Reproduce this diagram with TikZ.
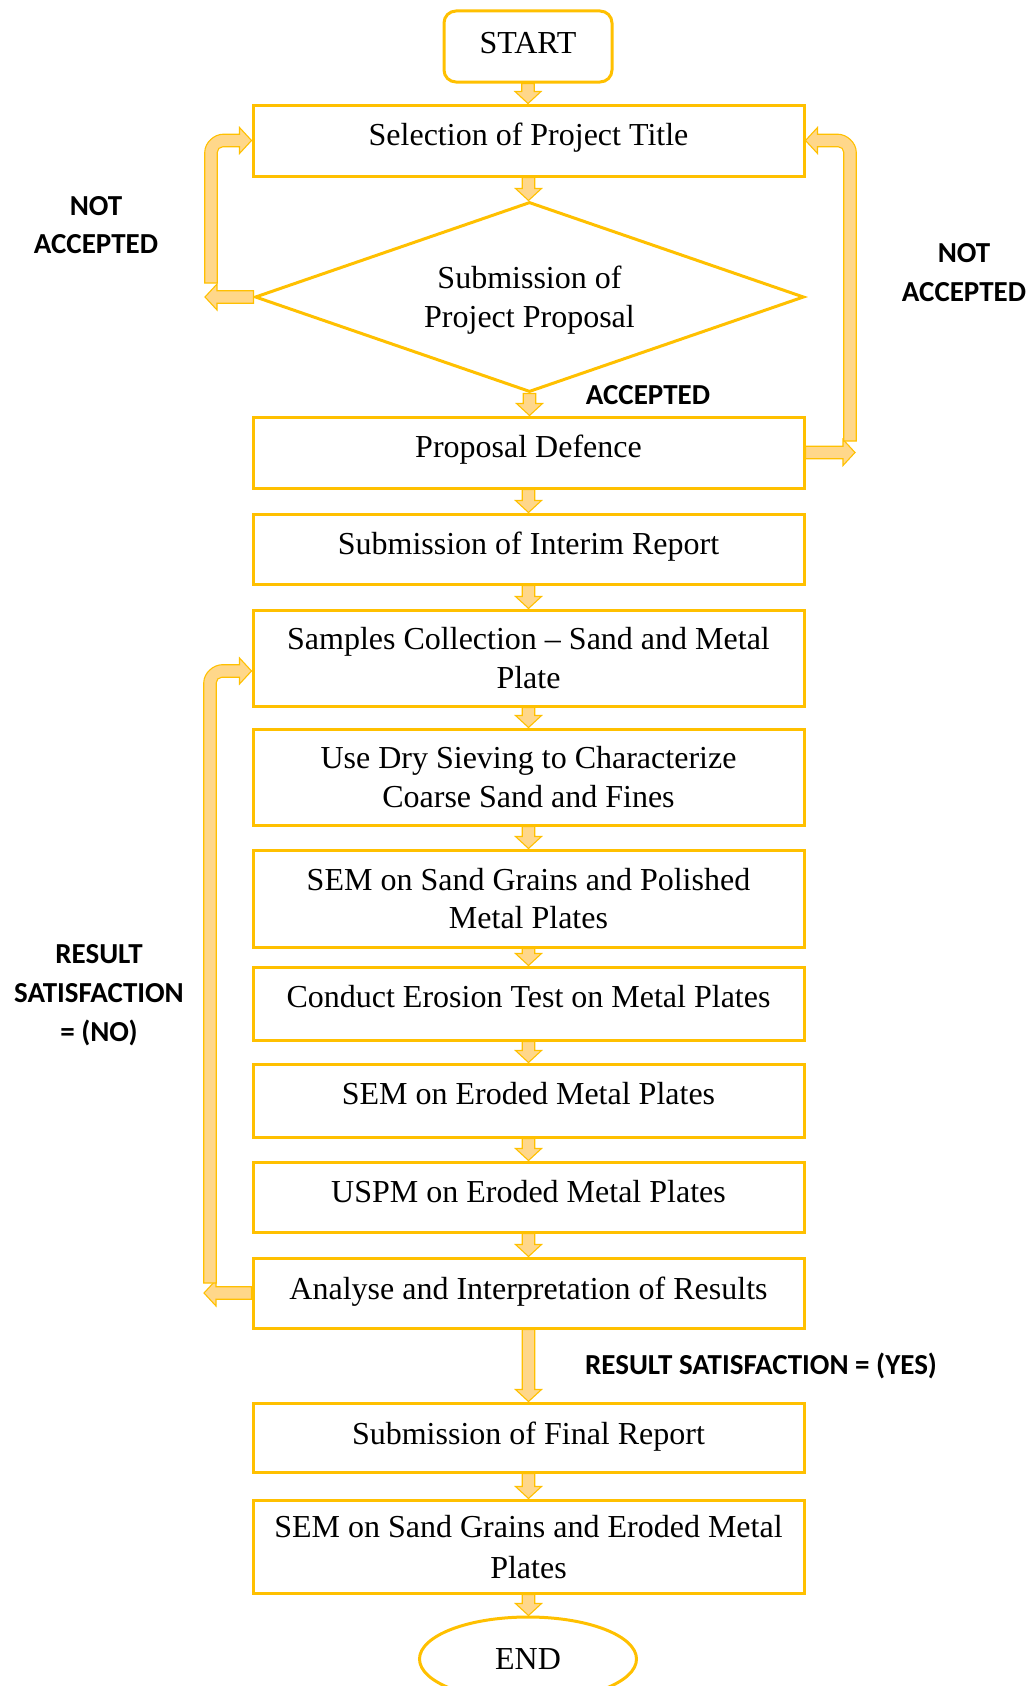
\documentclass[tikz,border=0pt]{standalone}
\usepackage{fontspec}
\setmainfont{Liberation Serif}
\newfontfamily\labfont{Carlito}
\usetikzlibrary{shapes.geometric,calc}
\definecolor{gold}{HTML}{FFC000}
\definecolor{afill}{HTML}{FFD78A}

\newcommand\vblock[2]{\path[blockarrow] let \p1=(#1), \p2=(#2) in
 ({\x1-6.25pt},\y1) -- ({\x1+6.25pt},\y1) -- ({\x1+6.25pt},{\y2+12pt}) -- ({\x1+13pt},{\y2+12pt})
 -- (\x1,\y2) -- ({\x1-13pt},{\y2+12pt}) -- ({\x1-6.25pt},{\y2+12pt}) -- cycle;}

\newcommand\hblock[3]{\path[blockarrow] let \p1=(#1), \p2=(#2) in
 (\x1,{\y1+6.25pt}) -- ({\x2-(#3)*12pt},{\y1+6.25pt}) -- ({\x2-(#3)*12pt},{\y1+13pt}) -- (\x2,\y1)
 -- ({\x2-(#3)*12pt},{\y1-13pt}) -- ({\x2-(#3)*12pt},{\y1-6.25pt}) -- (\x1,{\y1-6.25pt}) -- cycle;}

\newcommand\bentblock[3]{\path[blockarrow] let \p1=(#1), \p2=(#2) in
 ({\x1-(#3)*6.25pt},\y1) -- ({\x1-(#3)*6.25pt},{\y2+6.25pt-18pt})
 .. controls ({\x1-(#3)*6.25pt},{\y2+6.25pt-8pt}) and ({\x1-(#3)*6.25pt+(#3)*10pt},{\y2+6.25pt}) .. ({\x1-(#3)*6.25pt+(#3)*18pt},{\y2+6.25pt})
 -- ({\x2-(#3)*12pt},{\y2+6.25pt}) -- ({\x2-(#3)*12pt},{\y2+13pt}) -- (\x2,\y2)
 -- ({\x2-(#3)*12pt},{\y2-13pt}) -- ({\x2-(#3)*12pt},{\y2-6.25pt})
 -- ({\x1+(#3)*11.75pt},{\y2-6.25pt}) .. controls ({\x1+(#3)*8.75pt},{\y2-6.25pt}) and ({\x1+(#3)*6.25pt},{\y2-8.75pt}) .. ({\x1+(#3)*6.25pt},{\y2-11.75pt})
 -- ({\x1+(#3)*6.25pt},\y1) -- cycle;}

\begin{document}
\begin{tikzpicture}[x=1pt,y=-1pt,
  box/.style={draw=gold, line width=3pt, minimum width=551pt, inner sep=0pt, align=center,
              font=\fontsize{32}{38.7}\selectfont},
  one/.style={text height=23pt, text depth=#1},
  one/.default=13pt,
  blockarrow/.style={fill=afill, draw=gold, line width=1.1pt, line join=miter},
  lab/.style={align=center, font=\labfont\bfseries\fontsize{29}{38.7}\selectfont, inner sep=0pt}]
\useasboundingbox (0,0) rectangle (1033,1686);

\node[box, one=9pt, rounded corners=12pt, minimum width=168pt, minimum height=71pt] (start) at (528,46.5) {START};
\node[box, one, minimum height=71pt] (sel) at (528.5,140.5) {Selection of Project Title};
\node[draw=gold, line width=3pt, diamond, aspect=2.889, minimum width=549pt, minimum height=190pt, inner sep=0pt,
      align=center, text depth=-1.5pt, font=\fontsize{32}{38.7}\selectfont] (diam) at (529.5,297) {Submission of\\Project Proposal};
\node[box, one, minimum height=71pt] (prop) at (528.5,452.5) {Proposal Defence};
\node[box, one, minimum height=70pt] (interim) at (528.5,549) {Submission of Interim Report};
\node[box, minimum height=96pt] (samp) at (528.5,658) {Samples Collection -- Sand and Metal\\Plate};
\node[box, minimum height=96pt] (sieve) at (528.5,777) {Use Dry Sieving to Characterize\\Coarse Sand and Fines};
\node[box, minimum height=97pt] (semsand) at (528.5,898.5) {SEM on Sand Grains and Polished\\Metal Plates};
\node[box, one=15pt, minimum height=73pt] (erosion) at (528.5,1003.5) {Conduct Erosion Test on Metal Plates};
\node[box, one=15pt, minimum height=73pt] (semer) at (528.5,1100.5) {SEM on Eroded Metal Plates};
\node[box, one, minimum height=70pt] (uspm) at (528.5,1197) {USPM on Eroded Metal Plates};
\node[box, one=10pt, minimum height=70pt] (anal) at (528.5,1293) {Analyse and Interpretation of Results};
\node[box, one=10pt, minimum height=69pt] (final) at (528.5,1437.5) {Submission of Final Report};
\node[box, minimum height=93pt, text depth=0pt, font=\fontsize{32}{41}\selectfont] (semfin) at (528.5,1546.5) {SEM on Sand Grains and Eroded Metal\\Plates};
\node[draw=gold, line width=3pt, ellipse, minimum width=217pt, minimum height=84pt, inner sep=0pt,
      font=\fontsize{32}{38.7}\selectfont] (end) at (528,1659) {END};

% straight down arrows
\vblock{start.south}{sel.north}
\vblock{sel.south}{diam.north}
\vblock{diam.south}{prop.north}
\vblock{prop.south}{interim.north}
\vblock{interim.south}{samp.north}
\vblock{samp.south}{sieve.north}
\vblock{sieve.south}{semsand.north}
\vblock{semsand.south}{erosion.north}
\vblock{erosion.south}{semer.north}
\vblock{semer.south}{uspm.north}
\vblock{uspm.south}{anal.north}
\vblock{anal.south}{final.north}
\vblock{final.south}{semfin.north}
\vblock{semfin.south}{end.north}

% loops
\coordinate (tipL1) at (205,297);
\coordinate (barL1) at (211,283);
\hblock{diam.west}{tipL1}{-1}
\bentblock{barL1}{sel.west}{1}

\coordinate (tipR) at (855,452.5);
\coordinate (barR) at (850,441);
\hblock{prop.east}{tipR}{1}
\bentblock{barR}{sel.east}{-1}

\coordinate (tipL2) at (204,1293);
\coordinate (barL2) at (210,1283);
\coordinate (sampin) at ($(samp.west)+(0,13)$);
\hblock{anal.west}{tipL2}{-1}
\bentblock{barL2}{sampin}{1}

% labels
\node[lab] (na1) at (96,225) {NOT\\ACCEPTED};
\node[lab] (na2) at (964,272.5) {NOT\\ACCEPTED};
\node[lab] (acc) at (648,395) {ACCEPTED};
\node[lab] (rno) at (99,995) {RESULT\\SATISFACTION\\= (NO)};
\node[lab] (ryes) at (761,1366) {RESULT SATISFACTION = (YES)};
\end{tikzpicture}
\end{document}
